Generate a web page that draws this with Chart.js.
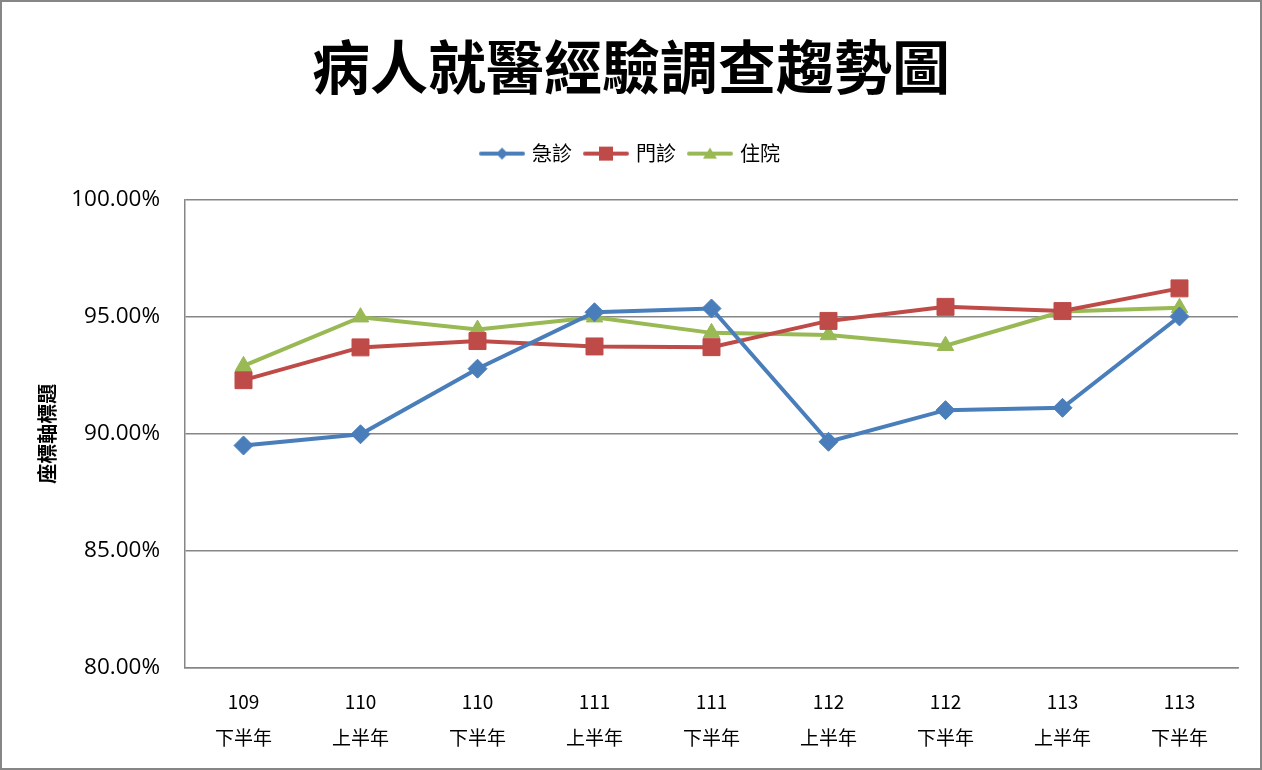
<!DOCTYPE html>
<html>
<head>
<meta charset="utf-8">
<script src="https://cdn.jsdelivr.net/npm/chart.js@4/dist/chart.umd.min.js"></script>
<style>
  html, body { margin: 0; padding: 0; background: #fff; }
  #wrap { width: 1262px; height: 770px; }
</style>
</head>
<body>
<div id="wrap"><canvas id="c" width="1262" height="770"></canvas></div>
<script>
const categories = [
  ["109", "下半年"], ["110", "上半年"], ["110", "下半年"], ["111", "上半年"], ["111", "下半年"],
  ["112", "上半年"], ["112", "下半年"], ["113", "上半年"], ["113", "下半年"]
];
const emergency = [89.50, 89.98, 92.78, 95.19, 95.35, 89.66, 91.01, 91.11, 95.01];
const outpatient = [92.29, 93.69, 93.96, 93.73, 93.70, 94.82, 95.42, 95.24, 96.21];
const inpatient = [92.90, 94.98, 94.45, 94.98, 94.31, 94.22, 93.76, 95.22, 95.38];
const seriesNames = ["急診", "門診", "住院"];
const yTicks = [80, 85, 90, 95, 100];
const titleText = "病人就醫經驗調查趨勢圖";
const yTitle = "座標軸標題";

const colors = ["#4A7EBB", "#BE4B48", "#98B954"];
const styles = ["rectRot", "rect", "triangle"];
const radii = [9.5, 12, 9.5];

function legendSwatch(color, style) {
  const c = document.createElement('canvas');
  c.width = 46; c.height = 20;
  const ctx = c.getContext('2d');
  ctx.strokeStyle = color; ctx.lineWidth = 4; ctx.lineCap = 'round';
  ctx.beginPath(); ctx.moveTo(2, 10); ctx.lineTo(44, 10); ctx.stroke();
  ctx.fillStyle = color;
  ctx.beginPath();
  if (style === 'rectRot') {
    ctx.moveTo(23, 4); ctx.lineTo(29, 10); ctx.lineTo(23, 16); ctx.lineTo(17, 10);
  } else if (style === 'rect') {
    ctx.rect(16, 3, 14, 14);
  } else {
    ctx.moveTo(23, 4); ctx.lineTo(30, 15); ctx.lineTo(16, 15);
  }
  ctx.closePath(); ctx.fill();
  return c;
}
const swatches = colors.map((c, i) => legendSwatch(c, styles[i]));

const seriesData = [emergency, outpatient, inpatient];
const datasets = seriesNames.map((name, i) => ({
  label: name,
  data: seriesData[i],
  xAxisID: 'x',
  yAxisID: 'y',
  borderColor: colors[i],
  backgroundColor: colors[i],
  borderWidth: 4,
  pointStyle: styles[i],
  pointRadius: radii[i],
  pointBorderWidth: 1,
  pointBackgroundColor: colors[i],
  pointBorderColor: colors[i],
  tension: 0,
  fill: false
}));

const frame = {
  id: 'frame',
  beforeDraw(chart) {
    const ctx = chart.ctx;
    ctx.save();
    ctx.fillStyle = '#fff';
    ctx.fillRect(0, 0, chart.width, chart.height);
    ctx.restore();
  },
  afterDraw(chart) {
    const ctx = chart.ctx;
    ctx.save();
    ctx.strokeStyle = '#868686';
    ctx.lineWidth = 2;
    ctx.strokeRect(1, 1, chart.width - 2, chart.height - 2);
    ctx.restore();
  }
};

new Chart(document.getElementById('c'), {
  type: 'line',
  data: { labels: categories, datasets },
  plugins: [frame],
  options: {
    responsive: false,
    animation: false,
    layout: { padding: { left: 24, right: 24, top: 0, bottom: 2 } },
    plugins: {
      tooltip: { enabled: false },
      title: {
        display: true,
        text: titleText,
        color: '#000',
        font: { family: '"Noto Sans CJK TC"', size: 58, weight: 'bold', lineHeight: 1.2 },
        padding: { top: 32, bottom: 28 }
      },
      legend: {
        display: true,
        position: 'top',
        labels: {
          color: '#000',
          font: { family: '"Noto Sans CJK TC"', size: 20 },
          usePointStyle: true,
          pointStyleWidth: 40,
          padding: 14,
          generateLabels(chart) {
            const items = Chart.defaults.plugins.legend.labels.generateLabels(chart);
            items.forEach((it, i) => { it.pointStyle = swatches[i]; });
            return items;
          }
        }
      }
    },
    scales: {
      xTop: {
        type: 'category',
        position: 'top',
        display: true,
        grid: { display: false, drawTicks: false },
        border: { display: false },
        ticks: { display: false },
        afterFit(s) { s.height = 26; }
      },
      x: {
        type: 'category',
        position: 'bottom',
        offset: true,
        grid: { display: false, drawTicks: false },
        border: { display: true, color: '#868686', width: 1.5 },
        ticks: {
          color: '#000',
          padding: 16,
          maxRotation: 0,
          autoSkip: false,
          font: { family: '"Noto Sans CJK TC"', size: 19, lineHeight: 1.9 }
        },
        afterFit(s) { s.height = 100; }
      },
      y: {
        min: 80,
        max: 100,
        afterBuildTicks(s) { s.ticks = yTicks.map(v => ({ value: v })); },
        grid: { color: '#868686', lineWidth: 1.5, drawTicks: false },
        border: { display: true, color: '#868686', width: 1.5 },
        ticks: {
          color: '#000',
          padding: 25,
          font: { family: '"Open Sans"', size: 22.5 },
          callback: v => v.toFixed(2) + '%'
        },
        title: {
          display: true,
          text: yTitle,
          color: '#000',
          font: { family: '"Noto Sans CJK TC"', size: 20, weight: 'bold' },
          padding: { top: 11, bottom: 0 }
        },
        afterFit(s) { s.width = 161; }
      }
    }
  }
});
</script>
</body>
</html>
